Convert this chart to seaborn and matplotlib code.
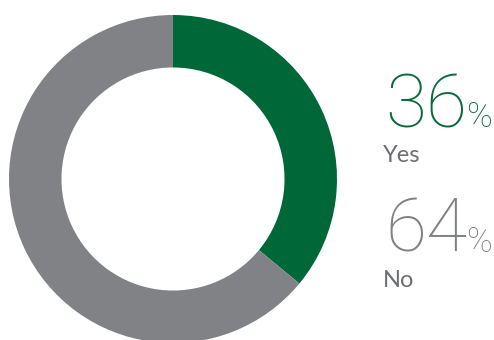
import matplotlib
matplotlib.use("Agg")
import matplotlib.pyplot as plt
import seaborn as sns

# Survey answers
labels = ["Yes", "No"]
shares = [36, 64]
ring_colors = ["#006838", "#808285"]
number_colors = ["#0b6a3c", "#7f8083"]
caption_color = "#6d6e71"

sns.set_theme(style="white")
plt.rcParams["font.family"] = ["Roboto", "DejaVu Sans"]

fig = plt.figure(figsize=(4.94, 3.40), dpi=100)
fig.patch.set_facecolor("white")

W, H = 494, 340
# donut axes: centre (173,179) px, radius 164 px
ax = fig.add_axes([(173 - 164) / W, (H - 179 - 164) / H, 328 / W, 328 / H])
ax.pie(shares, colors=sns.color_palette(ring_colors), startangle=90,
       counterclock=False, radius=1.0,
       wedgeprops=dict(width=0.32, linewidth=0))
ax.set_xlim(-1, 1)
ax.set_ylim(-1, 1)
ax.set_aspect("equal")
ax.axis("off")

fig.canvas.draw()
renderer = fig.canvas.get_renderer()

number_baselines = [127, 252]
caption_baselines = [162, 287]
for lab, val, col, nb, cb in zip(labels, shares, number_colors,
                                 number_baselines, caption_baselines):
    t = fig.text(385 / W, (H - nb) / H, f"{val}", fontsize=54, color=col,
                 fontweight="light", ha="left", va="baseline")
    bb = t.get_window_extent(renderer)
    fig.text((bb.x1 - 1) / W, (H - nb) / H, "%", fontsize=25, color=col,
             fontweight="light", ha="left", va="baseline")
    fig.text(383 / W, (H - cb) / H, lab, fontsize=17, color=caption_color,
             family=["Lato", "DejaVu Sans"], fontweight="normal",
             ha="left", va="baseline")

fig.savefig("out.png", dpi=100, facecolor="white")
